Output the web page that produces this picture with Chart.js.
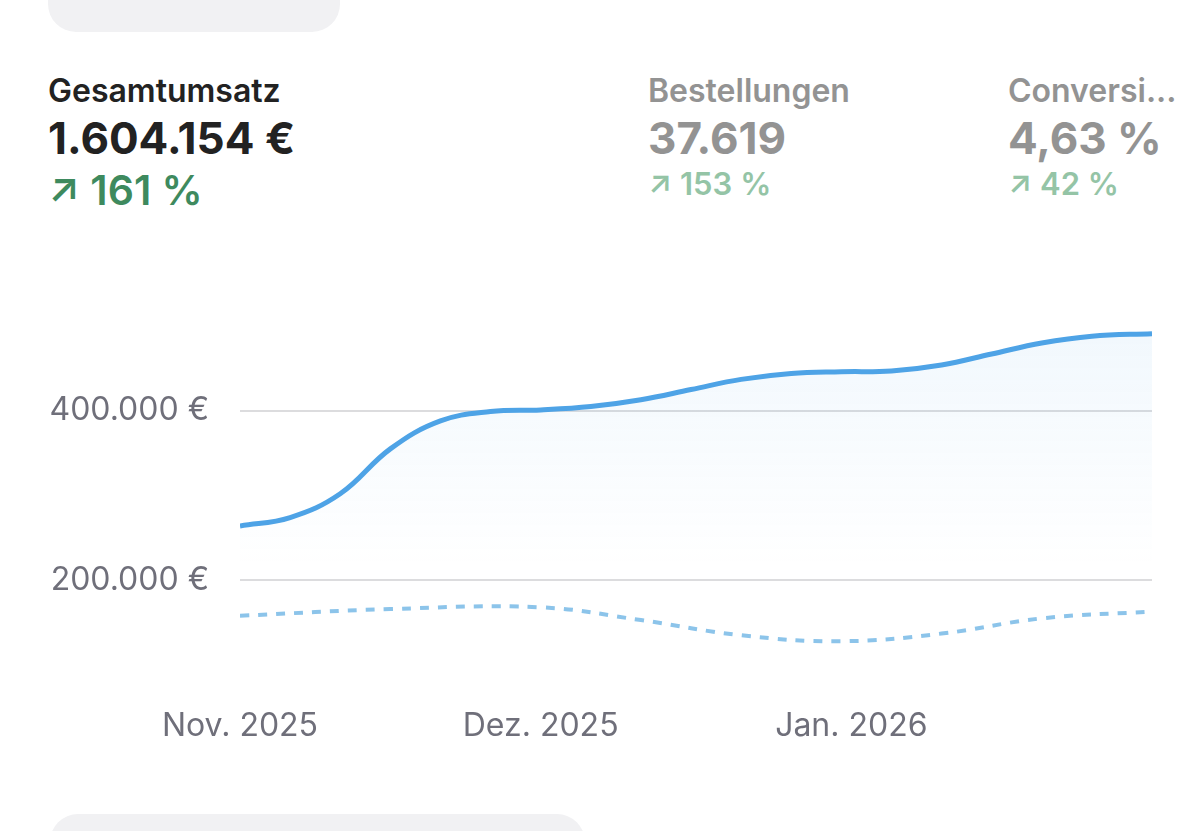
<!DOCTYPE html>
<html>
<head>
<meta charset="utf-8">
<script src="https://cdn.jsdelivr.net/npm/chart.js@4/dist/chart.umd.min.js"></script>
<style>
  body { margin: 0; width: 1200px; height: 831px; background: #fff; font-family: Inter, "Noto Sans", sans-serif; overflow: hidden; position: relative; }
  .pill { position: absolute; background: #f1f1f3; border-radius: 28px; }
  .kpi { position: absolute; top: 70px; }
  .kpi .t { font-size: 32px; font-weight: 600; line-height: 42px; }
  .kpi .v { font-size: 44px; font-weight: 700; line-height: 52px; }
  .kpi .d { font-size: 41px; font-weight: 600; line-height: 52px; color: #3e8a5e; }
  .kpi.dim .t, .kpi.dim .v { color: #939393; }
  .kpi.dim .d { color: #94c4a6; font-size: 31px; line-height: 40px; }
  #wrap { position: absolute; left: 0; top: 250px; width: 1200px; height: 540px; }
</style>
</head>
<body>
<div class="pill" style="left:48px; top:-30px; width:292px; height:62px;"></div>
<div class="pill" style="left:50px; top:814px; width:535px; height:60px;"></div>

<div class="kpi" style="left:48px;">
  <div class="t" style="color:#222">Gesamtumsatz</div>
  <div class="v" style="color:#222">1.604.154 €</div>
  <div class="d">↗ 161 %</div>
</div>
<div class="kpi dim" style="left:648px;">
  <div class="t">Bestellungen</div>
  <div class="v">37.619</div>
  <div class="d">↗ 153 %</div>
</div>
<div class="kpi dim" style="left:1008px;">
  <div class="t">Conversi...</div>
  <div class="v">4,63 %</div>
  <div class="d">↗ 42 %</div>
</div>

<div id="wrap"><canvas id="chart"></canvas></div>

<script>
// day index since 1 Nov 2025
const monthTicks = [0, 30, 61];
const monthLabels = ["Nov. 2025", "Dez. 2025", "Jan. 2026"];

const currentDays = [0, 5, 10, 15, 20, 25, 30, 35, 40, 45, 50, 55, 60, 65, 70, 75, 80, 85, 91];
const currentValues = [264000, 274000, 302000, 355000, 388000, 399000, 401000, 405000, 413000, 425000,
  437000, 444000, 446000, 447000, 454000, 467000, 480000, 488000, 491000];

const previousDays = [0, 15, 30, 40, 50, 60, 70, 80, 91];
const previousValues = [158000, 166000, 168000, 153000, 135000, 128000, 137000, 155000, 163000];

const yTicks = [200000, 400000];

const euro = (v) => v.toLocaleString("de-DE") + " €";

const ctx = document.getElementById("chart");
new Chart(ctx, {
  type: "line",
  data: {
    datasets: [
      {
        label: "Aktuell",
        data: currentDays.map((d, i) => ({ x: d, y: currentValues[i] })),
        borderColor: "#4ea3e6",
        borderWidth: 5,
        pointRadius: 0,
        tension: 0.4,
        fill: "start",
        backgroundColor: (c) => {
          const area = c.chart.chartArea;
          if (!area) return "rgba(78,163,230,0.05)";
          const g = c.chart.ctx.createLinearGradient(0, area.top, 0, area.bottom);
          g.addColorStop(0, "rgba(78,163,230,0.08)");
          g.addColorStop(0.75, "rgba(78,163,230,0.0)");
          return g;
        },
      },
      {
        label: "Vorperiode",
        data: previousDays.map((d, i) => ({ x: d, y: previousValues[i] })),
        borderColor: "#8cc4ea",
        borderWidth: 4,
        borderDash: [9, 9],
        pointRadius: 0,
        tension: 0.4,
        fill: false,
      },
    ],
  },
  options: {
    responsive: true,
    maintainAspectRatio: false,
    animation: false,
    layout: { padding: { top: 76, right: 48, left: 0, bottom: 0 } },
    plugins: { legend: { display: false }, tooltip: { enabled: false } },
    scales: {
      x: {
        type: "linear",
        min: 0,
        max: 91,
        grid: { display: false },
        border: { display: false },
        afterBuildTicks: (scale) => { scale.ticks = monthTicks.map((v) => ({ value: v })); },
        afterFit: (scale) => { scale.height = 142; },
        ticks: {
          autoSkip: false,
          maxRotation: 0,
          padding: 51,
          color: "#6f6f7a",
          font: { size: 32, family: "Inter, 'Noto Sans', sans-serif" },
          callback: (value) => monthLabels[monthTicks.indexOf(value)],
        },
      },
      y: {
        min: 120000,
        max: 500000,
        border: { display: false },
        grid: { color: "#dcdcde", lineWidth: 2, drawTicks: false },
        afterBuildTicks: (scale) => { scale.ticks = yTicks.map((v) => ({ value: v })); },
        afterFit: (scale) => { scale.width = 240; },
        ticks: {
          padding: 31,
          color: "#6f6f7a",
          font: { size: 32, family: "Inter, 'Noto Sans', sans-serif" },
          callback: (value) => euro(value),
        },
      },
    },
  },
});
</script>
</body>
</html>
